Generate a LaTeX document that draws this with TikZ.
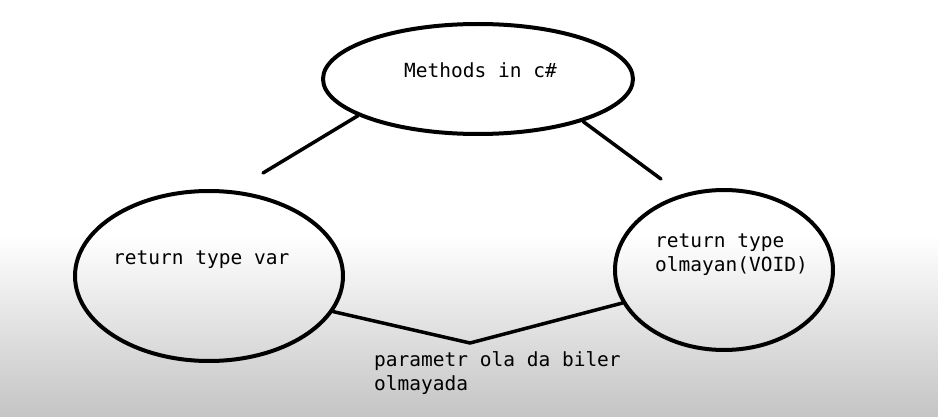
\documentclass[tikz,border=0pt]{standalone}
\usepackage{fontspec}
\setmonofont{DejaVu Sans Mono}
\usetikzlibrary{shapes,calc}
\definecolor{lowgray}{rgb}{0.77,0.77,0.77}
\tikzstyle{oval}=[ellipse,draw=black,line width=4pt,inner sep=0pt]
\tikzstyle{words}=[inner sep=0pt,align=left,
  font=\ttfamily\fontsize{19.5}{24}\selectfont]
\tikzstyle{link}=[draw=black,line width=3.5pt,line cap=round]

\begin{document}
\begin{tikzpicture}[x=1pt,y=-1pt]
    \useasboundingbox (0,0) rectangle (938,417);
    \fill[white] (0,0) rectangle (938,417);
    \shade[top color=white,bottom color=lowgray] (0,235) rectangle (938,417);

    \node[oval,minimum width=310pt,minimum height=110pt] (methods) at (478,79) {};
    \node[oval,minimum width=268pt,minimum height=170pt] (ret) at (209,276) {};
    \node[oval,minimum width=218pt,minimum height=160pt] (void) at (724,270) {};

    \node[words,anchor=base west] (methodstxt) at (404,78) {Methods in c\#};
    \node[words,anchor=base west] (rettxt) at (113,265) {return type var};
    \node[words,anchor=base west] (voidtxt) at (655,271) {return type\\olmayan(VOID)};
    \node[words,anchor=base west] (param) at (374,390) {parametr ola da biler\\olmayada};

    \coordinate (leftend) at (263,173);
    \coordinate (rightend) at (661,179);
    \coordinate (apex) at (470,343);

    \draw[link] (methods.197) -- (leftend);
    \draw[link] (methods.338) -- (rightend);
    \draw[link] (ret.-16) -- (apex) -- (void.198);
\end{tikzpicture}
\end{document}
